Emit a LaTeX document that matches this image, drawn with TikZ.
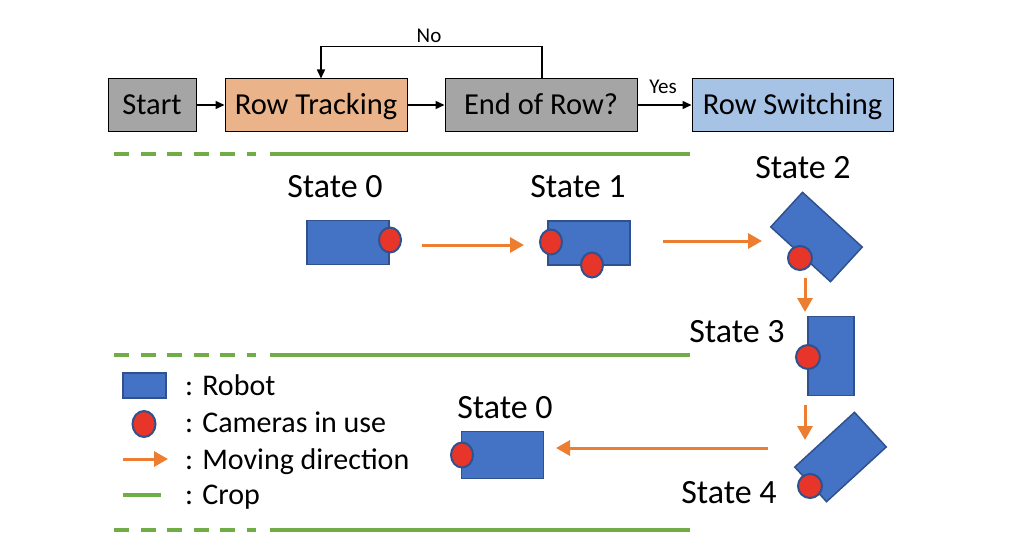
\documentclass[tikz,border=0pt]{standalone}
\usepackage{fontspec}
\setmainfont{Carlito}
\usetikzlibrary{arrows.meta,shapes.geometric}
\definecolor{robotblue}{HTML}{4472C4}
\definecolor{robotedge}{HTML}{2F528F}
\definecolor{camred}{HTML}{E8352A}
\definecolor{arroworange}{HTML}{ED7D31}
\definecolor{cropgreen}{HTML}{70AD47}
\definecolor{boxgray}{HTML}{A5A5A5}
\definecolor{boxorange}{HTML}{EAB38A}
\definecolor{boxblue}{HTML}{A6C3E6}
\begin{document}
\begin{tikzpicture}[x=1pt,y=-1pt,
  flow/.style={draw=black, line width=1pt, minimum height=52pt, inner sep=0pt,
    font=\fontsize{30.5}{31}\selectfont, text height=19.6pt, text depth=0pt},
  flowarrow/.style={draw=black, line width=1.5pt, -{Triangle[length=9pt,width=8pt]}},
  small/.style={inner sep=0pt, font=\fontsize{21}{22}\selectfont, text height=13.5pt, text depth=0pt},
  statelbl/.style={inner sep=0pt, font=\fontsize{34}{35}\selectfont, text height=21.9pt, text depth=0pt},
  legendlbl/.style={inner sep=0pt, anchor=west, font=\fontsize{30}{31}\selectfont, text height=19.5pt, text depth=0pt},
  robot/.style={rectangle, fill=robotblue, draw=robotedge, line width=1.5pt, inner sep=0pt},
  robotH/.style={robot, minimum width=82pt, minimum height=44pt},
  cam/.style={ellipse, fill=camred, draw=robotedge, line width=2pt, inner sep=0pt, minimum width=22pt, minimum height=25pt},
  camc/.style={circle, fill=camred, draw=robotedge, line width=2pt, inner sep=0pt, minimum size=24pt},
  move/.style={draw=arroworange, line width=3pt, -{Triangle[length=14pt,width=15pt]}},
  crop/.style={draw=cropgreen, line width=3.3pt},
  cropdash/.style={crop, dash pattern=on 15pt off 11.5pt}
]
\useasboundingbox (0,0) rectangle (1036,551);

% ---------- flowchart ----------
\node[flow, fill=boxgray,   minimum width=88pt]  (start) at (152,105) {Start};
\node[flow, fill=boxorange, minimum width=182pt] (rt)    at (316,105) {Row Tracking};
\node[flow, fill=boxgray,   minimum width=192pt] (eor)   at (541,105) {End of Row?};
\node[flow, fill=boxblue,   minimum width=201pt] (rs)    at (792.5,105) {Row Switching};
\draw[flowarrow] (start) -- (rt);
\draw[flowarrow] (rt) -- (eor);
\draw[flowarrow] (eor) -- (rs);
\draw[flowarrow] ([xshift=1pt]eor.north) -- ++(0,-32) -| ([xshift=5pt]rt.north);
\node[small] (no)  at (429,36) {No};
\node[small] (yes) at (663,87) {Yes};

% ---------- crop rows ----------
\foreach \yy/\nm in {154/a,355/b,530/c}{
  \coordinate (d\nm1) at (114,\yy);
  \coordinate (d\nm2) at (256,\yy);
  \coordinate (s\nm1) at (270,\yy);
  \coordinate (s\nm2) at (690,\yy);
  \draw[cropdash] (d\nm1) -- (d\nm2);
  \draw[crop] (s\nm1) -- (s\nm2);
}

% ---------- states ----------
\node[statelbl] (l0) at (335,187) {State 0};
\node[robotH] (r0) at (348,242.5) {};
\node[cam] (c0) at (390,240) {};

\node[statelbl] (l1) at (578,187) {State 1};
\node[robotH] (r1) at (589,243) {};
\node[cam] (c1a) at (551,242) {};
\node[cam] (c1b) at (592,265) {};

\node[statelbl] (l2) at (803,168) {State 2};
\node[robot, minimum width=81pt, minimum height=47pt, rotate=-42.5] (r2) at (816.5,237) {};
\node[camc] (c2) at (800,258) {};

\node[statelbl] (l3) at (737,332) {State 3};
\node[robot, minimum width=46pt, minimum height=79pt] (r3) at (831,356) {};
\node[camc] (c3) at (808,357) {};

\node[statelbl] (l4) at (729,493) {State 4};
\node[robot, minimum width=81pt, minimum height=47pt, rotate=42.5] (r4) at (840.5,457) {};
\node[camc] (c4) at (810,486) {};

\node[statelbl] (l5) at (505,408) {State 0};
\node[robotH, minimum height=47pt] (r5) at (502.5,455) {};
\node[cam] (c5) at (462,455) {};

% ---------- moving arrows ----------
\coordinate (m1a) at (422,245); \coordinate (m1b) at (524,245);
\coordinate (m2a) at (663,241); \coordinate (m2b) at (762,241);
\coordinate (m3a) at (805,278); \coordinate (m3b) at (805,312);
\coordinate (m4a) at (805,405); \coordinate (m4b) at (805,440);
\coordinate (m5a) at (768,448); \coordinate (m5b) at (556,448);
\draw[move] (m1a) -- (m1b);
\draw[move] (m2a) -- (m2b);
\draw[move] (m3a) -- (m3b);
\draw[move] (m4a) -- (m4b);
\draw[move] (m5a) -- (m5b);

% ---------- legend ----------
\node[robot, minimum width=43pt, minimum height=25pt] (lgr) at (144.5,385.5) {};
\node[legendlbl] (lt1) at (185,386) {: Robot};
\node[cam, minimum width=23pt, minimum height=26pt] (lgc) at (144,424) {};
\node[legendlbl] (lt2) at (185,423) {: Cameras in use};
\coordinate (lga) at (123,459); \coordinate (lgb) at (168,459);
\draw[move] (lga) -- (lgb);
\node[legendlbl] (lt3) at (185,460) {: Moving direction};
\coordinate (lgg1) at (123,495); \coordinate (lgg2) at (161,495);
\draw[crop] (lgg1) -- (lgg2);
\node[legendlbl] (lt4) at (185,495) {: Crop};
\end{tikzpicture}
\end{document}
